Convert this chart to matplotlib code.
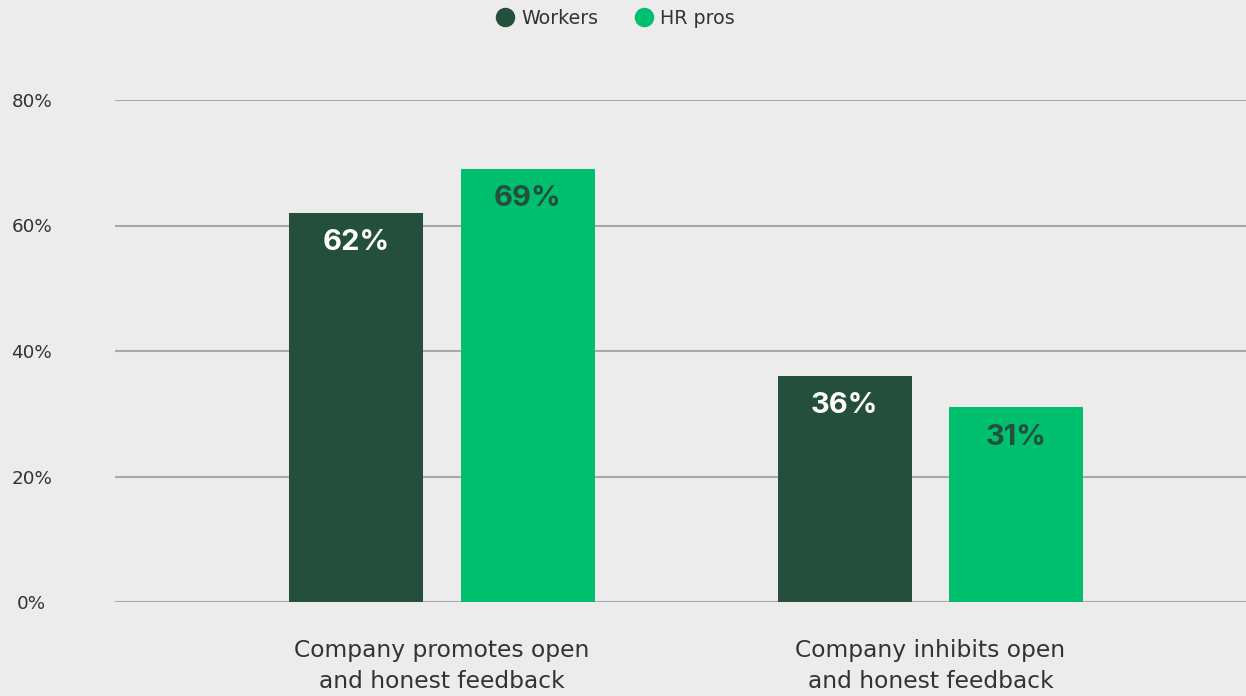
import matplotlib
matplotlib.use("Agg")
import matplotlib.pyplot as plt
from matplotlib.lines import Line2D

# Survey results: share of respondents per statement
categories = ["Company promotes open\nand honest feedback",
              "Company inhibits open\nand honest feedback"]
series_names = ["Workers", "HR pros"]
workers = [62, 36]
hr_pros = [69, 31]
y_ticks = [0, 20, 40, 60, 80]
y_tick_labels = ["0%", "20%", "40%", "60%", "80%"]

BG = "#ebeceb"
DARK = "#234f3c"
BRIGHT = "#00bf6f"
GRID = "#a8a8a8"
TEXT = "#333333"

plt.rcParams["font.family"] = ["DejaVu Sans"]

W, H = 1246, 696
fig = plt.figure(figsize=(W / 100, H / 100), dpi=100, facecolor=BG)
ax = fig.add_axes([115 / W, 1 - 602 / H, 1 - 115 / W, (602 - 100) / H])
ax.set_facecolor(BG)

x = [0, 1]
width = 0.274
offset = 0.1755
ax.set_xlim(-0.669, 1.646)
ax.set_ylim(0, 80)

for vals, sign, color, lab_color in [(workers, -1, DARK, "white"),
                                     (hr_pros, 1, BRIGHT, DARK)]:
    pos = [xi + sign * offset for xi in x]
    bars = ax.bar(pos, vals, width=width, color=color, zorder=3)
    for b, v in zip(bars, vals):
        ax.annotate(f"{v}%", (b.get_x() + b.get_width() / 2, v),
                    xytext=(0, -21.5), textcoords="offset points",
                    ha="center", va="center", fontsize=21,
                    fontweight="bold", family=["Inter", "DejaVu Sans"],
                    color=lab_color, zorder=4)

# Horizontal gridlines
ax.set_yticks(y_ticks)
ax.set_yticklabels(y_tick_labels)
ax.yaxis.grid(True, color=GRID, linewidth=1.5, zorder=0)
ax.set_axisbelow(True)
for lbl in ax.get_yticklabels():
    lbl.set_horizontalalignment("center")
ax.tick_params(axis="y", length=0, pad=60, labelsize=13.2, labelcolor=TEXT)

ax.set_xticks(x)
ax.set_xticklabels(categories)
ax.tick_params(axis="x", length=0, pad=27, labelsize=16.8, labelcolor=TEXT)
for lbl in ax.get_xticklabels():
    lbl.set_linespacing(1.42)

for s in ax.spines.values():
    s.set_visible(False)

handles = [Line2D([], [], marker="o", linestyle="", markersize=13,
                  markerfacecolor=c, markeredgecolor=c)
           for c in (DARK, BRIGHT)]
fig.legend(handles, series_names, loc="center", ncol=2, frameon=False,
           bbox_to_anchor=(613 / W, 1 - 18 / H), fontsize=13.7,
           handlelength=1.5, handletextpad=0.1, columnspacing=1.65,
           labelcolor=TEXT)

fig.savefig("out.png", dpi=100, facecolor=BG)
